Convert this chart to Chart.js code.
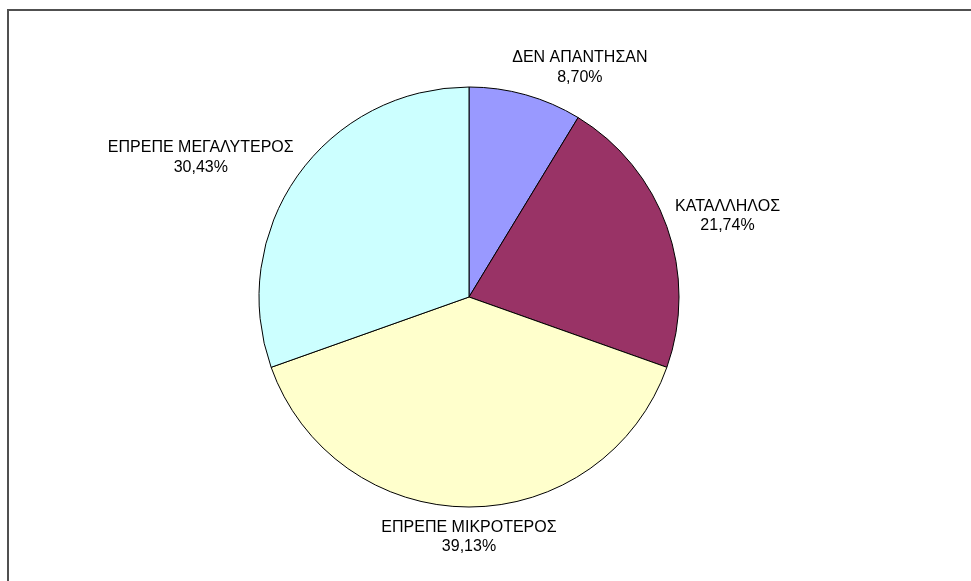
<!DOCTYPE html>
<html>
<head>
<meta charset="utf-8">
<script src="https://cdn.jsdelivr.net/npm/chart.js@4"></script>
<style>
  html, body { margin: 0; padding: 0; background: #ffffff; }
  #wrap { width: 971px; height: 581px; position: relative; }
</style>
</head>
<body>
<div id="wrap"><canvas id="graficoPie" width="971" height="581"></canvas></div>
<script>
// Datos (respuestas sobre el tamaño)
const categorias = ['ΔΕΝ ΑΠΑΝΤΗΣΑΝ', 'ΚΑΤΑΛΛΗΛΟΣ', 'ΕΠΡΕΠΕ ΜΙΚΡΟΤΕΡΟΣ', 'ΕΠΡΕΠΕ ΜΕΓΑΛΥΤΕΡΟΣ'];
const valores = [2, 5, 9, 7];
const colores = ['#9999ff', '#993366', '#ffffcc', '#ccffff'];

// ubicación de las etiquetas: ángulo (grados desde arriba) y distancia en radios
const angulosEtiqueta = [25.8, 72.6, 180, 297.5];
const distanciasEtiqueta = [1.213, 1.29, 1.143, 1.44];

const total = valores.reduce((a, b) => a + b, 0);
const porcentaje = v => (v / total * 100).toFixed(2).replace('.', ',') + '%';

// marco gris del área del gráfico
const marcoPlugin = {
  id: 'marco',
  beforeDraw(chart) {
    const ctx = chart.ctx;
    ctx.save();
    ctx.strokeStyle = '#505050';
    ctx.lineWidth = 2;
    ctx.beginPath();
    ctx.moveTo(8, chart.height + 5);
    ctx.lineTo(8, 10);
    ctx.lineTo(chart.width + 5, 10);
    ctx.stroke();
    ctx.restore();
  }
};

// etiquetas con nombre y porcentaje
const etiquetasPlugin = {
  id: 'etiquetasPie',
  afterDatasetsDraw(chart) {
    const ctx = chart.ctx;
    const meta = chart.getDatasetMeta(0);
    ctx.save();
    ctx.fillStyle = '#000000';
    ctx.font = '16px "Liberation Sans", Arial, sans-serif';
    ctx.textAlign = 'center';
    ctx.textBaseline = 'middle';
    meta.data.forEach((arco, i) => {
      const { x, y, outerRadius } = arco.getProps(['x', 'y', 'outerRadius'], true);
      const ang = angulosEtiqueta[i] * Math.PI / 180;
      const d = outerRadius * distanciasEtiqueta[i];
      const cx = x + Math.sin(ang) * d;
      const cy = y - Math.cos(ang) * d;
      ctx.fillText(categorias[i], cx, cy - 9.75);
      ctx.fillText(porcentaje(valores[i]), cx, cy + 9.75);
    });
    ctx.restore();
  }
};

new Chart(document.getElementById('graficoPie'), {
  type: 'pie',
  data: {
    labels: categorias,
    datasets: [{
      data: valores,
      backgroundColor: colores,
      borderColor: '#000000',
      borderWidth: 1,
      radius: 210
    }]
  },
  options: {
    responsive: false,
    animation: false,
    layout: { padding: { left: 40, right: 73, top: 50, bottom: 37 } },
    plugins: {
      legend: { display: false },
      tooltip: { enabled: false }
    }
  },
  plugins: [marcoPlugin, etiquetasPlugin]
});
</script>
</body>
</html>
